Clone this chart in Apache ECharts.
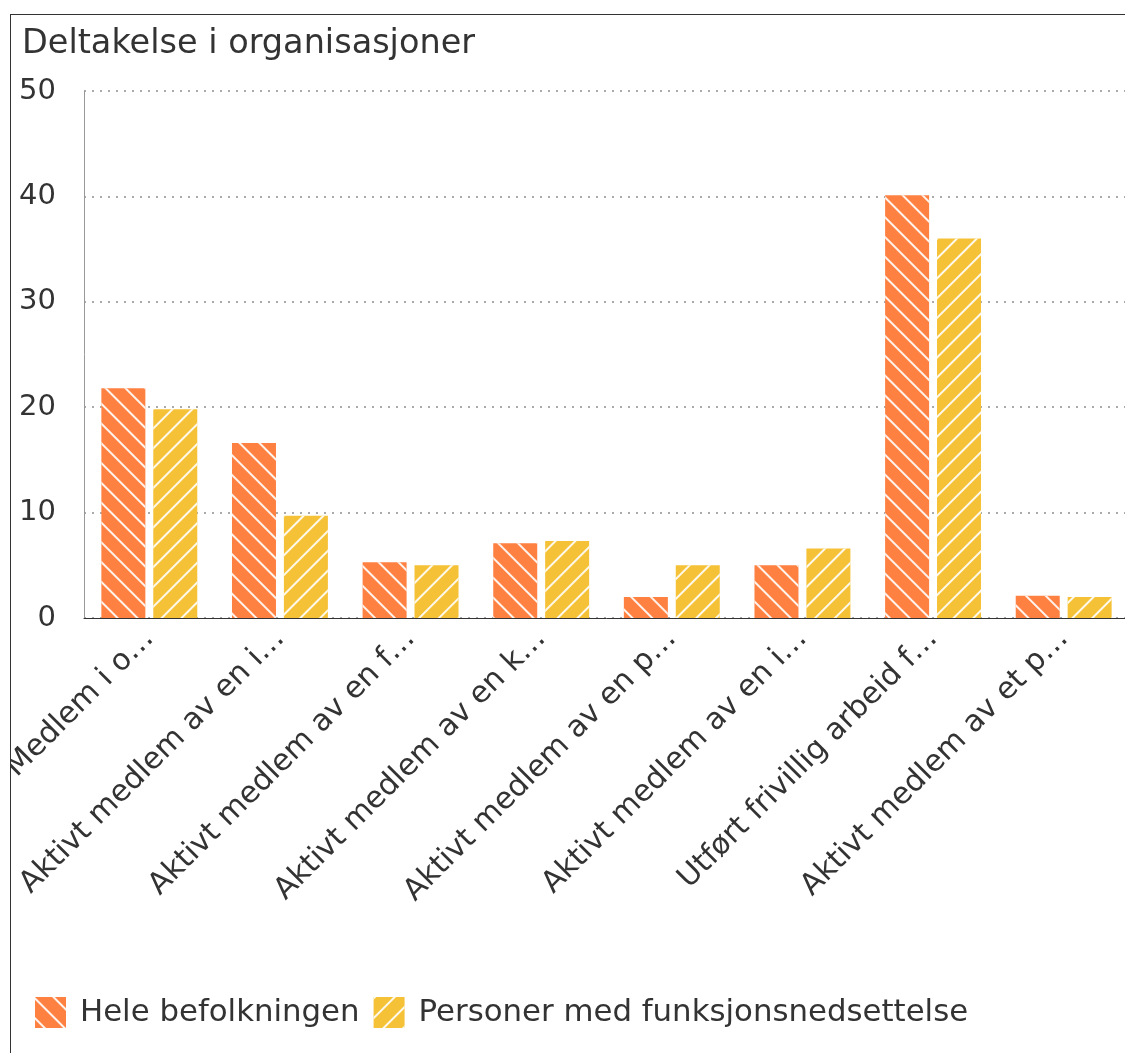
<!DOCTYPE html>
<html>
<head>
<meta charset="utf-8">
<script src="https://cdn.jsdelivr.net/npm/echarts@6/dist/echarts.min.js"></script>
<style>
  html, body { margin: 0; padding: 0; overflow: hidden; background: #fff; }
  #wrap { position: absolute; left: 10px; top: 14px; border: 1px solid #333; }
  #chart { width: 1140px; height: 1060px; }
</style>
</head>
<body>
<div id="wrap"><div id="chart"></div></div>
<script>
// Deltakelse i organisasjoner (prosent)
const categories = [
  'Medlem i o…',
  'Aktivt medlem av en i…',
  'Aktivt medlem av en f…',
  'Aktivt medlem av en k…',
  'Aktivt medlem av en p…',
  'Aktivt medlem av en i…',
  'Utført frivillig arbeid f…',
  'Aktivt medlem av et p…'
]
const heleBefolkningen = [21.8, 16.6, 5.3, 7.1, 2.0, 5.0, 40.1, 2.1]
const funksjonsnedsettelse = [19.8, 9.7, 5.0, 7.3, 5.0, 6.6, 36.0, 2.0]

const font = 'DejaVu Sans'
const textColor = '#333'

const stripe = (rot) => ({
  symbol: 'rect',
  color: 'rgba(255,255,255,0.9)',
  dashArrayX: [1, 0],
  dashArrayY: [2, 12],
  rotation: rot
})

const chart = echarts.init(document.getElementById('chart'))
chart.setOption({
  animation: false,
  textStyle: { fontFamily: font },
  title: {
    text: 'Deltakelse i organisasjoner',
    left: 6,
    top: 7,
    textStyle: { fontFamily: font, fontSize: 33.5, fontWeight: 'normal', color: textColor }
  },
  legend: {
    left: 19,
    top: 977,
    icon: 'rect',
    itemWidth: 31,
    itemHeight: 31,
    itemGap: 14,
    textStyle: { fontFamily: font, fontSize: 30.8, color: textColor, padding: [0, 0, 0, 9] },
    data: ['Hele befolkningen', 'Personer med funksjonsnedsettelse']
  },
  grid: { left: 73, top: 76, width: 1045, height: 527, outerBoundsMode: 'none', containLabel: false },
  xAxis: {
    type: 'category',
    data: categories,
    axisLine: { lineStyle: { color: '#333', width: 1 } },
    axisTick: { show: false },
    axisLabel: {
      rotate: 45,
      interval: 0,
      fontFamily: font,
      fontSize: 30,
      color: textColor,
      margin: 16
    }
  },
  yAxis: {
    type: 'value',
    min: 0,
    max: 50,
    interval: 10,
    axisLine: { show: true, lineStyle: { color: '#999' } },
    axisTick: { show: false },
    axisLabel: { fontFamily: font, fontSize: 29, color: textColor, margin: 28 },
    splitLine: { lineStyle: { color: '#aaa', type: [2, 6], width: 2 } }
  },
  series: [
    {
      name: 'Hele befolkningen',
      type: 'bar',
      data: heleBefolkningen,
      barWidth: 44,
      barGap: '18%',
      itemStyle: { color: '#ff8142', decal: stripe(Math.PI / 4) }
    },
    {
      name: 'Personer med funksjonsnedsettelse',
      type: 'bar',
      data: funksjonsnedsettelse,
      barWidth: 44,
      itemStyle: { color: '#f5c136', decal: stripe(-Math.PI / 4) }
    }
  ]
})
</script>
</body>
</html>
